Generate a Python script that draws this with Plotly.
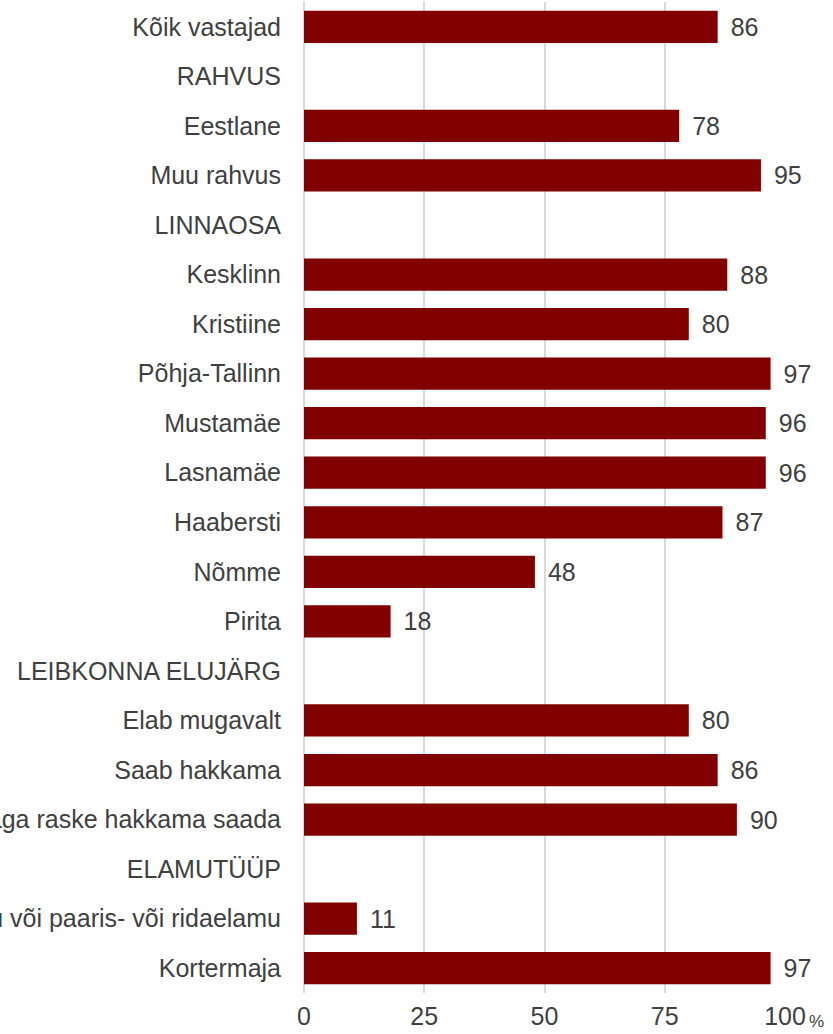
import plotly.graph_objects as go

categories = [
    "Kõik vastajad", "RAHVUS", "Eestlane", "Muu rahvus", "LINNAOSA",
    "Kesklinn", "Kristiine", "Põhja-Tallinn", "Mustamäe", "Lasnamäe",
    "Haabersti", "Nõmme", "Pirita", "LEIBKONNA ELUJÄRG", "Elab mugavalt",
    "Saab hakkama", "Raske või väga raske hakkama saada", "ELAMUTÜÜP",
    "Eramu või paaris- või ridaelamu", "Kortermaja",
]
values = [86, None, 78, 95, None, 88, 80, 97, 96, 96, 87, 48, 18, None,
          80, 86, 90, None, 11, 97]

tick_vals = [0, 25, 50, 75, 100]
tick_text = ["0", "25", "50", "75", "100"]
unit_label = "%"

BAR = "#800000"
TXT = "#404040"
GRID = "#d9d9d9"
FONT = "Liberation Sans, Arial, sans-serif"

fig = go.Figure(go.Bar(
    x=values, y=categories, orientation="h",
    marker=dict(color=BAR, line_width=0),
    text=[f"\u2009\u2009{v}" if v is not None else "" for v in values],
    textposition="outside", cliponaxis=False,
    textfont=dict(color=TXT, size=25, family=FONT),
    width=0.65,
))

fig.update_layout(
    width=833, height=1034,
    paper_bgcolor="white", plot_bgcolor="white",
    margin=dict(l=304, r=48, t=2, b=41),
    showlegend=False,
    font=dict(family=FONT, color=TXT, size=25),
)
fig.update_xaxes(
    range=[0, 100], tickvals=tick_vals, ticktext=tick_text,
    showgrid=True, gridcolor=GRID, gridwidth=1.5,
    zeroline=True, zerolinecolor=GRID, zerolinewidth=1.5,
    tickfont=dict(size=25, color=TXT), ticks="", automargin=False,
    ticklabelstandoff=6,
)
fig.update_yaxes(
    autorange="reversed", showgrid=False, ticks="", automargin=False,
    ticklabelstandoff=22, tickfont=dict(size=25, color=TXT),
)

# small "%" unit right after the 100 tick
fig.add_annotation(
    x=100, y=0, xref="x", yref="paper", text=unit_label, showarrow=False,
    xanchor="left", yanchor="top", xshift=22, yshift=-17,
    font=dict(size=17, color=TXT, family=FONT),
)

# kill the default 8px body margin so the 833x1034 figure fills the window
fig.write_html(
    "out.html",
    config={"displayModeBar": False},
    post_script="document.body.style.margin='0';"
                "document.body.style.overflow='hidden';",
)
